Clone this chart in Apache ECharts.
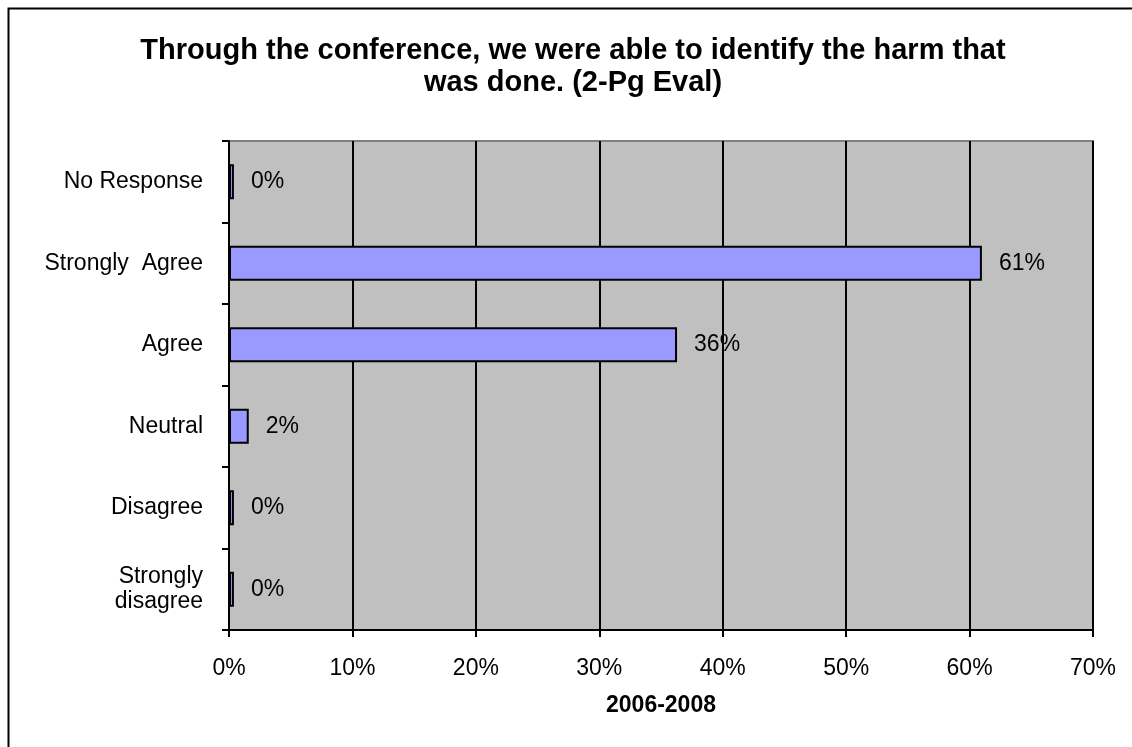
<!DOCTYPE html>
<html>
<head>
<meta charset="utf-8">
<script src="https://cdn.jsdelivr.net/npm/echarts@6/dist/echarts.min.js"></script>
<style>
html,body{margin:0;padding:0;background:#fff;}
#chart{width:1132px;height:747px;}
</style>
</head>
<body>
<div id="chart"></div>
<script>
const categories = ["Strongly\ndisagree", "Disagree", "Neutral", "Agree", "Strongly  Agree", "No Response"];
const values = [0.4, 0.4, 1.6, 36.3, 61.0, 0.4];
const xTicks = [0, 10, 20, 30, 40, 50, 60, 70];
const titleText = "Through the conference, we were able to identify the harm that\nwas done. (2-Pg Eval)";
const xAxisName = "2006-2008";

const chart = echarts.init(document.getElementById('chart'));
const font = "Liberation Sans, Arial, sans-serif";
chart.setOption({
  animation: false,
  graphic: [{
    type: 'rect', left: 6, top: 6, z: 0,
    shape: {width: 1140, height: 760},
    style: {fill: 'none', stroke: '#000', lineWidth: 2}
  }],
  title: {
    text: titleText,
    left: 568, textAlign: 'center', top: 30,
    textStyle: {fontFamily: font, fontSize: 29, fontWeight: 'bold', color: '#000', lineHeight: 32}
  },
  grid: {left: 229, right: 39, top: 141, bottom: 117, show: true,
    backgroundColor: '#c0c0c0', borderColor: '#808080', borderWidth: 2},
  xAxis: {
    type: 'value', min: xTicks[0], max: xTicks[xTicks.length-1], interval: 10,
    name: xAxisName, nameLocation: 'middle', nameGap: 64,
    nameTextStyle: {fontFamily: font, fontSize: 23, fontWeight: 'bold', color: '#000'},
    axisLine: {show: true, lineStyle: {color: '#000', width: 2}},
    axisTick: {show: true, length: 7, lineStyle: {color: '#000', width: 2}},
    axisLabel: {fontFamily: font, fontSize: 23, color: '#000', margin: 27, formatter: v => v + '%'},
    splitLine: {show: true, lineStyle: {color: '#000', width: 2}}
  },
  yAxis: {
    type: 'category', data: categories,
    axisLine: {show: true, lineStyle: {color: '#000', width: 2}},
    axisTick: {show: true, length: 7, lineStyle: {color: '#000', width: 2}},
    axisLabel: {fontFamily: font, fontSize: 23, color: '#000', margin: 26, lineHeight: 25, align: 'right'},
    splitLine: {show: false}
  },
  series: [{
    type: 'bar', data: values, barWidth: '43%',
    itemStyle: {color: '#9999ff', borderColor: '#000', borderWidth: 2},
    label: {show: true, position: 'right', distance: 17,
      fontFamily: font, fontSize: 23, color: '#000',
      formatter: p => Math.round(p.value) + '%'}
  }]
});
</script>
</body>
</html>
